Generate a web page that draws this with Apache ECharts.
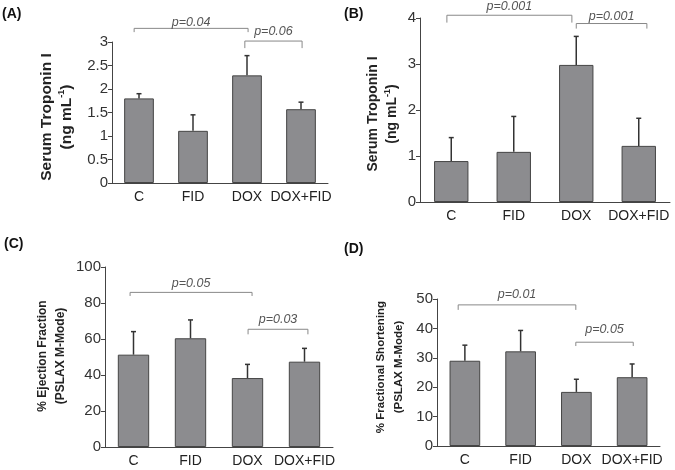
<!DOCTYPE html>
<html lang="en">
<head>
    <meta charset="UTF-8">
    <title>Troponin / echo</title>
    <style>
        html, body {margin: 0; padding: 0; background: #fff;}
        #main {width: 675px; height: 470px;}
    </style>
    <script src="https://cdn.jsdelivr.net/npm/echarts@6/dist/echarts.min.js"></script>
</head>
<body>
<div id="main"></div>
<script>
    var categories = ['C', 'FID', 'DOX', 'DOX+FID'];

    // (A) serum troponin I, ng/mL
    var tropA = [1.80, 1.11, 2.29, 1.57];
    var tropAErr = [0.10, 0.34, 0.42, 0.15];
    // (B) serum troponin I, ng/mL
    var tropB = [0.89, 1.09, 2.98, 1.22];
    var tropBErr = [0.51, 0.77, 0.62, 0.60];
    // (C) % ejection fraction
    var ejection = [51.3, 60.4, 38.3, 47.4];
    var ejectionErr = [12.8, 10.2, 7.6, 7.4];
    // (D) % fractional shortening
    var shortening = [29.0, 32.2, 18.4, 23.4];
    var shorteningErr = [5.3, 7.1, 4.3, 4.5];

    // brackets: [from, to, top, tip, labelY]  (x in category units)
    var bracketsA = [[-0.09, 2.02, 3.29, 3.21, 3.41], [1.96, 3.02, 3.02, 2.87, 3.22]];
    var pA = ['p=0.04', 'p=0.06'];
    var bracketsB = [[-0.07, 1.93, 4.06, 3.90, 4.25], [2.0, 3.13, 3.88, 3.77, 4.03]];
    var pB = ['p=0.001', 'p=0.001'];
    var bracketsC = [[-0.06, 2.08, 85.9, 83.9, 91.1], [2.01, 3.06, 65.4, 62.6, 70.9]];
    var pC = ['p=0.05', 'p=0.03'];
    var bracketsD = [[-0.12, 1.99, 48.0, 46.3, 51.4], [1.99, 3.02, 35.3, 34.0, 39.6]];
    var pD = ['p=0.01', 'p=0.05'];

    var FONT = 'Liberation Sans, Arial, sans-serif';
    var BAR = '#8c8c8f';

    function errRender(params, api) {
        var i = api.value(0), v = api.value(1), e = api.value(2);
        var p0 = api.coord([i, v]);
        var p1 = api.coord([i, v + e]);
        var st = {stroke: '#333', lineWidth: 1.5};
        return {
            type: 'group',
            children: [
                {type: 'line', shape: {x1: p0[0], y1: p0[1], x2: p1[0], y2: p1[1]}, style: st},
                {type: 'line', shape: {x1: p1[0] - 2.5, y1: p1[1], x2: p1[0] + 2.5, y2: p1[1]}, style: st}
            ]
        };
    }

    function bracketRender(labels) {
        return function (params, api) {
            function px(x) {
                var idx = Math.round(x);
                return api.coord([idx, 0])[0] + (x - idx) * api.size([1, 0])[0];
            }
            var x1 = px(api.value(0)), x2 = px(api.value(1));
            var yTop = api.coord([0, api.value(2)])[1];
            var yTip = api.coord([0, api.value(3)])[1];
            var yTxt = api.coord([0, api.value(4)])[1];
            return {
                type: 'group',
                children: [
                    {
                        type: 'polyline',
                        shape: {points: [[x1, yTip], [x1, yTop], [x2, yTop], [x2, yTip]]},
                        style: {stroke: '#888', lineWidth: 1, fill: null}
                    },
                    {
                        type: 'text',
                        x: (x1 + x2) / 2,
                        y: yTxt,
                        style: {
                            text: labels[params.dataIndex],
                            font: 'italic 12.5px ' + FONT,
                            fill: '#555',
                            align: 'center',
                            verticalAlign: 'middle'
                        }
                    }
                ]
            };
        };
    }

    function grid(left, top, width, height) {
        return {left: left, top: top, width: width, height: height};
    }

    function xAxis(i) {
        return {
            type: 'category', gridIndex: i, data: categories,
            axisLine: {lineStyle: {color: '#444', width: 1}},
            axisTick: {show: false},
            axisLabel: {color: '#222', fontSize: 14, fontFamily: FONT, margin: 7, interval: 0}
        };
    }

    function yAxis(i, max, interval) {
        return {
            type: 'value', gridIndex: i, min: 0, max: max, interval: interval,
            splitLine: {show: false},
            axisLine: {show: true, lineStyle: {color: '#444', width: 1}},
            axisTick: {show: true, inside: false, length: 4, lineStyle: {color: '#444'}},
            axisLabel: {color: '#333', fontSize: 15, fontFamily: FONT, margin: 4}
        };
    }

    function pack(vals, errs) {
        return vals.map(function (v, i) { return [i, v, errs[i]]; });
    }

    function panel(i, vals, errs, brackets, labels) {
        return [
            {
                type: 'bar', xAxisIndex: i, yAxisIndex: i, data: vals, barWidth: '55%',
                itemStyle: {color: BAR, borderColor: '#454545', borderWidth: 1},
                silent: true
            },
            {
                type: 'custom', xAxisIndex: i, yAxisIndex: i, renderItem: errRender,
                data: pack(vals, errs), encode: {x: 0, y: 1}, z: 3, silent: true
            },
            {
                type: 'custom', xAxisIndex: i, yAxisIndex: i, renderItem: bracketRender(labels),
                dimensions: [
                    {name: 'from', type: 'float'}, {name: 'to', type: 'float'},
                    {name: 'top', type: 'float'}, {name: 'tip', type: 'float'},
                    {name: 'ty', type: 'float'}
                ],
                data: brackets, encode: {x: 0, y: 2}, clip: false, z: 4, silent: true
            }
        ];
    }

    function vtitle(x, y, text, size, lh) {
        return {
            type: 'text', x: x, y: y, rotation: Math.PI / 2,
            style: {
                text: text,
                font: 'bold ' + size + 'px ' + FONT,
                fill: '#222',
                align: 'center',
                verticalAlign: 'middle',
                lineHeight: lh,
                rich: {
                    sup: {fontSize: 9, fontWeight: 'bold', fontFamily: FONT, fill: '#222', verticalAlign: 'top', lineHeight: lh}
                }
            }
        };
    }

    function tag(x, y, text) {
        return {
            type: 'text', x: x, y: y,
            style: {text: text, font: 'bold 14px ' + FONT, fill: '#111', verticalAlign: 'middle'}
        };
    }

    var myChart = echarts.init(document.getElementById('main'), null, {renderer: 'canvas'});
    var option = {
        animation: false,
        backgroundColor: '#fff',
        grid: [
            grid(112, 42, 216, 141),
            grid(420, 18, 250, 184),
            grid(105, 267, 228, 180),
            grid(437, 299, 223, 147)
        ],
        xAxis: [xAxis(0), xAxis(1), xAxis(2), xAxis(3)],
        yAxis: [yAxis(0, 3, 0.5), yAxis(1, 4, 1), yAxis(2, 100, 20), yAxis(3, 50, 10)],
        series: [].concat(
            panel(0, tropA, tropAErr, bracketsA, pA),
            panel(1, tropB, tropBErr, bracketsB, pB),
            panel(2, ejection, ejectionErr, bracketsC, pC),
            panel(3, shortening, shorteningErr, bracketsD, pD)
        ),
        graphic: [
            tag(2, 14, '(A)'),
            tag(344, 14, '(B)'),
            tag(4, 244, '(C)'),
            tag(344, 249, '(D)'),
            vtitle(57, 117, 'Serum Troponin I\n(ng mL{sup|-1})', 15.5, 20),
            vtitle(383, 114, 'Serum Troponin I\n(ng mL{sup|-1})', 14, 19),
            vtitle(52, 356, '% Ejection Fraction\n(PSLAX M-Mode)', 12, 18),
            vtitle(390, 367, '% Fractional Shortening\n(PSLAX M-Mode)', 11.5, 18)
        ]
    };
    myChart.setOption(option);
</script>
</body>
</html>
